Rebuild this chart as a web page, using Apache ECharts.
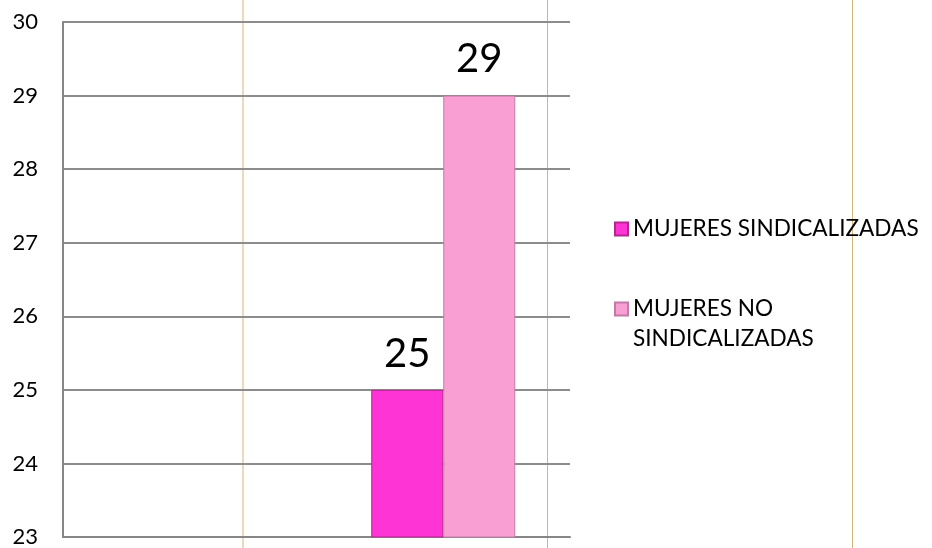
<!DOCTYPE html>
<html>
<head>
<meta charset="utf-8">
<script src="https://cdn.jsdelivr.net/npm/echarts@6/dist/echarts.min.js"></script>
<style>
  html, body { margin: 0; padding: 0; background: #fff; }
  #chart { width: 932px; height: 548px; }
</style>
</head>
<body>
<div id="chart"></div>
<script>
// datos
var categorias = ['', ''];
var sindicalizadas = [null, 25];
var noSindicalizadas = [null, 29];
var nombres = ['MUJERES SINDICALIZADAS', 'MUJERES NO SINDICALIZADAS'];

var fuente = 'Lato';

function initChart(){
    var option = {
        backgroundColor: '#fff',
        animation: false,
        textStyle: { fontFamily: fuente },
        graphic: [
            // lineas verticales del fondo
            { type: 'line', z: -10, shape: { x1: 243, y1: 0, x2: 243, y2: 548 }, style: { stroke: '#d6b47c', lineWidth: 1 } },
            { type: 'line', z: -10, shape: { x1: 547.5, y1: 0, x2: 547.5, y2: 548 }, style: { stroke: '#d6b47c', lineWidth: 1 } },
            { type: 'line', z: -10, shape: { x1: 852.5, y1: 0, x2: 852.5, y2: 548 }, style: { stroke: '#d6b47c', lineWidth: 1 } }
        ],
        grid: { left: 63, right: 362, top: 22, bottom: 10 },
        legend: {
            orient: 'vertical',
            left: 609,
            top: 209,
            itemGap: 20,
            itemWidth: 13,
            itemHeight: 13,
            icon: 'rect',
            selectedMode: false,
            // la segunda entrada ocupa dos lineas; una linea vacia arriba deja el icono junto a la primera
            formatter: function (name) {
                if (name === nombres[1]) {
                    return '\nMUJERES NO\nSINDICALIZADAS';
                }
                return name;
            },
            textStyle: { fontSize: 22.6, color: '#000', fontFamily: fuente, lineHeight: 30 },
            data: nombres
        },
        xAxis: {
            type: 'category',
            data: categorias,
            axisLine: { show: true, lineStyle: { color: '#868686', width: 2 } },
            axisTick: { show: false },
            axisLabel: { show: false }
        },
        yAxis: {
            type: 'value',
            min: 23,
            max: 30,
            interval: 1,
            axisLine: { show: true, lineStyle: { color: '#868686', width: 2 } },
            axisTick: { show: false },
            splitLine: { show: true, lineStyle: { color: '#8c8c8c', width: 2 } },
            axisLabel: { fontSize: 22, color: '#000', margin: 25, fontFamily: fuente }
        },
        series: [
            {
                name: nombres[0],
                type: 'bar',
                data: sindicalizadas,
                barWidth: 72,
                barGap: '0%',
                itemStyle: { color: '#fe34d4', borderColor: '#b3278f', borderWidth: 1 },
                label: { show: true, position: 'top', distance: 16, fontSize: 40, color: '#000', fontFamily: fuente }
            },
            {
                name: nombres[1],
                type: 'bar',
                data: noSindicalizadas,
                barWidth: 72,
                barGap: '0%',
                itemStyle: { color: '#fa9fd3', borderColor: '#c27ba6', borderWidth: 1 },
                label: { show: true, position: 'top', distance: 16, fontSize: 40, color: '#000', fontFamily: fuente }
            }
        ]
    };
    var myChart = echarts.init(document.getElementById('chart'));
    myChart.setOption(option);
}
initChart();
</script>
</body>
</html>
